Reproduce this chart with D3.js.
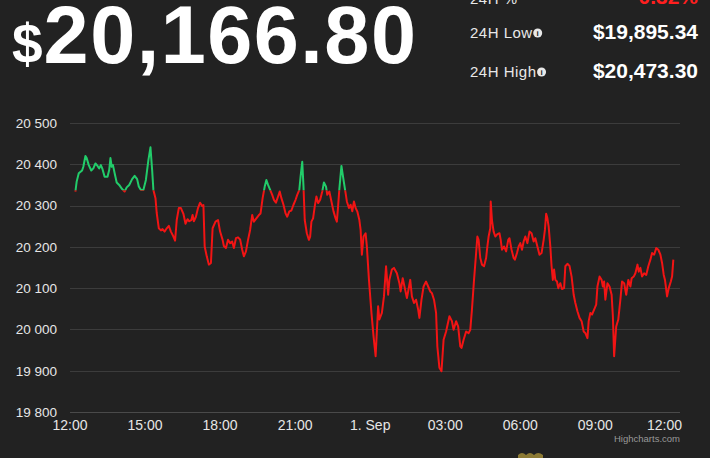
<!DOCTYPE html>
<html>
<head>
<meta charset="utf-8">
<script src="https://cdn.jsdelivr.net/npm/d3@7"></script>
<style>
  html, body { margin: 0; padding: 0; background: #222222; }
  svg { display: block; font-family: "Liberation Sans", Arial, Helvetica, sans-serif; }
</style>
</head>
<body>
<svg id="chart" width="710" height="458"></svg>
<script>
// minutes after 31 Aug 12:00, price in USD
const minutes = [
  13,16,21,29,32,37,40,45,51,56,
  61,66,70,74,78,83,90,94,97,100,
  103,108,112,118,125,131,136,142,149,155,
  161,165,170,176,182,188,193,197,200,205,
  208,213,218,222,227,232,237,242,248,252,
  256,261,266,272,277,282,286,291,294,297,
  302,307,312,317,320,323,328,333,338,342,
  349,355,360,366,
  369,374,379,384,389,393,398,403,408,413,
  417,422,427,432,437,441,447,453,457,462,
  467,471,475,480,485,489,494,499,503,507,
  512,517,521,526,531,536,541,545,550,553,
  557,560,563,568,573,576,579,583,587,591,
  595,600,605,609,614,617,622,627,632,637,
  640,643,646,651,656,661,664,669,673,677,
  681,685,689,694,697,700,704,709,712,717,
  723,728,733,
  739,742,748,753,758,763,766,772,777,784,
  790,793,798,803,808,811,816,820,825,830,
  835,838,843,848,854,859,864,868,873,878,
  881,886,891,896,902,910,916,920,926,931,
  936,939,944,950,956,960,964,969,974,977,
  980,984,988,993,998,1001,1004,1008,1009,1012,
  1016,1020,1025,1030,1033,1036,1041,1046,1051,1054,
  1059,1064,1067,1072,1076,1080,1084,1088,1092,1097,
  1102,1107,1112,1116,1121,1126,1131,1136,1139,1142,
  1145,1148,1152,1155,1158,1161,1164,1168,1171,1176,
  1180,1185,1188,1193,1198,1203,1208,1212,1217,1222,
  1227,1232,1236,1241,1244,1248,1252,1257,1262,1265,
  1270,1275,1278,1281,1284,1289,1294,1299,1302,1305,
  1310,1315,1320,1324,1329,1334,1339,1344,1347,1352,
  1356,1361,1364,1368,1372,1377,1382,1387,1392,1396,
  1401,1406,1411,1416,1420,1424,1427,1432,1436,1441,
  1444,1447
];
const prices = [
  20334,20358,20378,20385,20394,20420,20415,20398,20385,20390,
  20402,20396,20390,20398,20388,20370,20370,20386,20415,20394,
  20398,20374,20356,20350,20340,20334,20344,20350,20364,20372,
  20364,20346,20338,20338,20362,20410,20441,20386,20338,20318,
  20282,20245,20240,20243,20237,20245,20251,20237,20225,20215,
  20265,20294,20294,20280,20256,20267,20262,20265,20277,20262,
  20273,20294,20307,20299,20301,20201,20177,20157,20161,20245,
  20261,20265,20237,20217,
  20202,20197,20217,20209,20213,20197,20221,20223,20218,20193,
  20177,20189,20217,20241,20277,20261,20269,20277,20281,20318,
  20346,20362,20350,20338,20326,20314,20307,20322,20334,20318,
  20302,20281,20273,20286,20288,20302,20314,20326,20338,20370,
  20406,20346,20265,20233,20217,20225,20261,20269,20298,20322,
  20306,20314,20334,20356,20346,20326,20334,20310,20286,20269,
  20261,20298,20340,20396,20362,20330,20310,20294,20302,20286,
  20310,20294,20286,20265,20241,20181,20225,20233,20201,20120,
  20040,19983,19935,
  20056,20024,20040,20080,20153,20084,20120,20145,20149,20136,
  20112,20092,20124,20100,20076,20092,20120,20080,20064,20072,
  20048,20028,20072,20104,20116,20104,20092,20088,20072,20040,
  19959,19907,19899,19975,19995,20032,20020,19999,20020,20007,
  19959,19955,19975,19995,19991,19999,20048,20120,20185,20225,
  20217,20173,20157,20153,20173,20201,20225,20245,20310,20265,
  20237,20225,20231,20233,20217,20193,20201,20189,20217,20221,
  20193,20173,20169,20185,20201,20209,20193,20213,20225,20209,
  20237,20233,20213,20221,20201,20181,20185,20217,20241,20280,
  20269,20249,20201,20153,20120,20145,20120,20116,20100,20112,
  20098,20100,20153,20159,20154,20128,20084,20064,20044,20028,
  20020,19995,19991,19979,20020,20040,20036,20048,20060,20104,
  20128,20120,20104,20116,20072,20112,20104,20084,20032,19935,
  20007,20024,20072,20116,20112,20084,20120,20104,20124,20128,
  20136,20157,20140,20149,20128,20136,20132,20153,20169,20185,
  20181,20197,20193,20181,20161,20132,20120,20080,20100,20116,
  20128,20169
];

const yTicks = [19800, 19900, 20000, 20100, 20200, 20300, 20400, 20500];
const xTickHours = [0, 3, 6, 9, 12, 15, 18, 21, 24];
const xTickLabels = ["12:00", "15:00", "18:00", "21:00", "1. Sep", "03:00", "06:00", "09:00", "12:00"];
const threshold = 20337;   // green above, red below

const headline = { price: "20,166.80" };
const stats = [
  { label: "24H %", value: "-0.32%", color: "#ff1f1f", top: true },
  { label: "24H Low", value: "$19,895.34" },
  { label: "24H High", value: "$20,473.30" }
];

const start = new Date(2022, 7, 31, 12, 0);
const data = minutes.map((m, i) => ({ t: d3.timeMinute.offset(start, m), v: prices[i] }));

const svg = d3.select("#chart");
const plot = { left: 70, right: 680, top: 123, bottom: 412 };

const x = d3.scaleTime()
  .domain([start, d3.timeMinute.offset(start, 1463)])
  .range([plot.left, plot.right]);

const y = d3.scaleLinear()
  .domain([19800, 20500])
  .range([plot.bottom, plot.top]);

const fmt = d3.formatLocale({ decimal: ".", thousands: " ", grouping: [3], currency: ["", ""] }).format(",d");

// header
const head = svg.append("text")
  .attr("x", 12)
  .attr("y", 63)
  .attr("fill", "#ffffff")
  .attr("font-weight", "bold");
head.append("tspan").attr("font-size", 55).text("$");
head.append("tspan").attr("font-size", 81).attr("letter-spacing", 1.5).attr("dx", 1).text(headline.price);

const rowY = [4, 39, 78];
stats.forEach((s, i) => {
  const lab = svg.append("text")
    .attr("x", 470)
    .attr("y", rowY[i] - (s.top ? 0 : 1))
    .attr("fill", "#e8e8e8")
    .attr("font-size", 15)
    .attr("letter-spacing", 0.5)
    .text(s.label);
  if (!s.top) {
    const w = lab.node().getComputedTextLength();
    const cx = 470 + w + 5;
    const cy = rowY[i] - 6;
    svg.append("circle").attr("cx", cx).attr("cy", cy).attr("r", 4.5).attr("fill", "#e8e8e8");
    svg.append("text")
      .attr("x", cx).attr("y", cy + 3)
      .attr("text-anchor", "middle")
      .attr("font-size", 8).attr("font-weight", "bold")
      .attr("fill", "#222").text("i");
  }
  svg.append("text")
    .attr("x", 698)
    .attr("y", rowY[i])
    .attr("text-anchor", "end")
    .attr("fill", s.color || "#ffffff")
    .attr("font-size", 21)
    .attr("font-weight", "bold")
    .text(s.value);
});

// grid + y labels
svg.append("g")
  .selectAll("line")
  .data(yTicks)
  .enter().append("line")
  .attr("x1", plot.left)
  .attr("x2", plot.right)
  .attr("y1", d => Math.round(y(d)) + 0.5)
  .attr("y2", d => Math.round(y(d)) + 0.5)
  .attr("stroke", d => d === 19800 ? "#4a4a4a" : "#3c3c3c")
  .attr("stroke-width", 1);

svg.append("g")
  .selectAll("text")
  .data(yTicks)
  .enter().append("text")
  .attr("x", 57)
  .attr("y", d => y(d))
  .attr("dy", "0.36em")
  .attr("text-anchor", "end")
  .attr("fill", "#e6e6e6")
  .attr("font-size", 13.5)
  .text(d => fmt(d));

// x labels
const xl = svg.append("g")
  .selectAll("text")
  .data(xTickHours)
  .enter().append("text")
  .attr("x", d => x(d3.timeHour.offset(start, d)))
  .attr("y", 430)
  .attr("text-anchor", "middle")
  .attr("fill", "#e6e6e6")
  .attr("font-size", 14)
  .text((d, i) => xTickLabels[i]);

// keep last label inside the plot
xl.each(function() {
  const t = d3.select(this);
  const w = this.getComputedTextLength();
  const cx = +t.attr("x");
  if (cx + w / 2 > plot.right + 2) t.attr("x", plot.right + 2 - w / 2);
});

// price line, split at the threshold
const ty = y(threshold);
const defs = svg.append("defs");
defs.append("clipPath").attr("id", "clip-up")
  .append("rect").attr("x", 0).attr("y", 0).attr("width", 710).attr("height", ty);
defs.append("clipPath").attr("id", "clip-down")
  .append("rect").attr("x", 0).attr("y", ty).attr("width", 710).attr("height", 458 - ty);

const line = d3.line()
  .x(d => x(d.t))
  .y(d => y(d.v));

svg.append("path")
  .datum(data)
  .attr("d", line)
  .attr("fill", "none")
  .attr("stroke", "#f21414")
  .attr("stroke-width", 2)
  .attr("stroke-linejoin", "round")
  .attr("clip-path", "url(#clip-down)");

svg.append("path")
  .datum(data)
  .attr("d", line)
  .attr("fill", "none")
  .attr("stroke", "#22cc6a")
  .attr("stroke-width", 2)
  .attr("stroke-linejoin", "round")
  .attr("clip-path", "url(#clip-up)");

// credits
svg.append("text")
  .attr("x", 680)
  .attr("y", 442)
  .attr("text-anchor", "end")
  .attr("fill", "#999999")
  .attr("font-size", 9.5)
  .text("Highcharts.com");

// bit of a gold icon at the bottom edge
svg.append("path")
  .attr("d", "M518,458 L518,455 Q522,451 526,455 Q530,451 534,455 Q538,451 543,455 L543,458 Z")
  .attr("fill", "#8c7a34");
</script>
</body>
</html>
